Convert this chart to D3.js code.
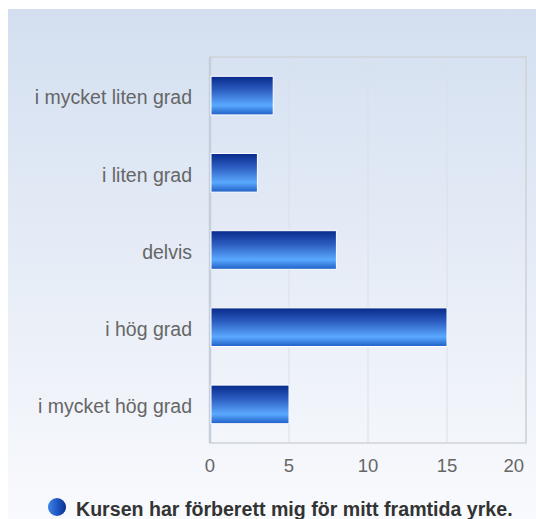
<!DOCTYPE html>
<html>
<head>
<meta charset="utf-8">
<script src="https://cdn.jsdelivr.net/npm/d3@7"></script>
<style>
  body { margin: 0; background: #fff; }
  text { font-family: "Liberation Sans", Arial, sans-serif; }
</style>
</head>
<body>
<div id="chart"></div>
<script>
const categories = ["i mycket liten grad", "i liten grad", "delvis", "i hög grad", "i mycket hög grad"];
const values = [4, 3, 8, 15, 5];
const xTicks = [0, 5, 10, 15, 20];
const seriesName = "Kursen har förberett mig för mitt framtida yrke.";

const width = 536, height = 519;
const plot = { left: 210, top: 57, right: 526, bottom: 443 };

const svg = d3.select("#chart").append("svg")
  .attr("width", width)
  .attr("height", height);

const defs = svg.append("defs");

// fond dégradé
const bg = defs.append("linearGradient").attr("id", "bg")
  .attr("x1", 0).attr("y1", 0).attr("x2", 0).attr("y2", 1);
bg.append("stop").attr("offset", "0%").attr("stop-color", "#d3dff0");
bg.append("stop").attr("offset", "100%").attr("stop-color", "#f9fafd");

const barGrad = defs.append("linearGradient").attr("id", "bar")
  .attr("x1", 0).attr("y1", 0).attr("x2", 0).attr("y2", 1);
barGrad.append("stop").attr("offset", "0%").attr("stop-color", "#062a8a");
barGrad.append("stop").attr("offset", "35%").attr("stop-color", "#2c5cc0");
barGrad.append("stop").attr("offset", "75%").attr("stop-color", "#5aa9ff");
barGrad.append("stop").attr("offset", "100%").attr("stop-color", "#1f5fc6");

const dot = defs.append("linearGradient").attr("id", "dot")
  .attr("x1", 0).attr("y1", 0).attr("x2", 1).attr("y2", 0);
dot.append("stop").attr("offset", "0%").attr("stop-color", "#3d84e8");
dot.append("stop").attr("offset", "55%").attr("stop-color", "#1d55c0");
dot.append("stop").attr("offset", "100%").attr("stop-color", "#0a2f90");

svg.append("rect")
  .attr("x", 8).attr("y", 9)
  .attr("width", width - 8).attr("height", height - 9)
  .attr("fill", "url(#bg)");

const x = d3.scaleLinear()
  .domain([0, 20])
  .range([plot.left, plot.right]);

const y = d3.scaleBand()
  .domain(categories)
  .range([plot.top, plot.bottom])
  .paddingInner(0.5)
  .paddingOuter(0.25);

// grille verticale
svg.append("g")
  .selectAll("line")
  .data(xTicks.slice(1))
  .join("line")
  .attr("x1", d => x(d)).attr("x2", d => x(d))
  .attr("y1", plot.top).attr("y2", plot.bottom)
  .attr("stroke", "#dcdfe6")
  .attr("stroke-width", 1);

// cadre
svg.append("rect")
  .attr("x", plot.left).attr("y", plot.top)
  .attr("width", plot.right - plot.left)
  .attr("height", plot.bottom - plot.top)
  .attr("fill", "none")
  .attr("stroke", "#cfd3d9")
  .attr("stroke-width", 1.5);

svg.append("line")
  .attr("x1", plot.left).attr("x2", plot.left)
  .attr("y1", plot.top).attr("y2", plot.bottom)
  .attr("stroke", "#c6cedb")
  .attr("stroke-width", 2.5);

// barres
svg.append("g")
  .selectAll("rect")
  .data(categories)
  .join("rect")
  .attr("x", x(0) + 1)
  .attr("y", d => y(d))
  .attr("width", (d, i) => x(values[i]) - x(0) - 1)
  .attr("height", y.bandwidth())
  .attr("fill", "url(#bar)")
  .attr("stroke", "#ffffff")
  .attr("stroke-width", 1);

// libellés des catégories
svg.append("g")
  .selectAll("text")
  .data(categories)
  .join("text")
  .attr("x", plot.left - 18)
  .attr("y", d => y(d) + y.bandwidth() / 2 + 2)
  .attr("dy", "0.35em")
  .attr("text-anchor", "end")
  .attr("fill", "#666")
  .style("font-size", "19.5px")
  .text(d => d);

// axe x (le dernier libellé est recadré dans la zone)
const last = xTicks[xTicks.length - 1];
svg.append("g")
  .selectAll("text")
  .data(xTicks)
  .join("text")
  .attr("x", d => d === last ? x(d) - 2 : x(d))
  .attr("y", plot.bottom + 29)
  .attr("text-anchor", d => d === last ? "end" : "middle")
  .attr("fill", "#666")
  .style("font-size", "18.5px")
  .text(d => d);

// légende
svg.append("circle")
  .attr("cx", 57).attr("cy", 507).attr("r", 9)
  .attr("fill", "url(#dot)");

svg.append("text")
  .attr("x", 76).attr("y", 516)
  .attr("fill", "#333")
  .style("font-size", "19.6px")
  .style("font-weight", "bold")
  .text(seriesName);
</script>
</body>
</html>
